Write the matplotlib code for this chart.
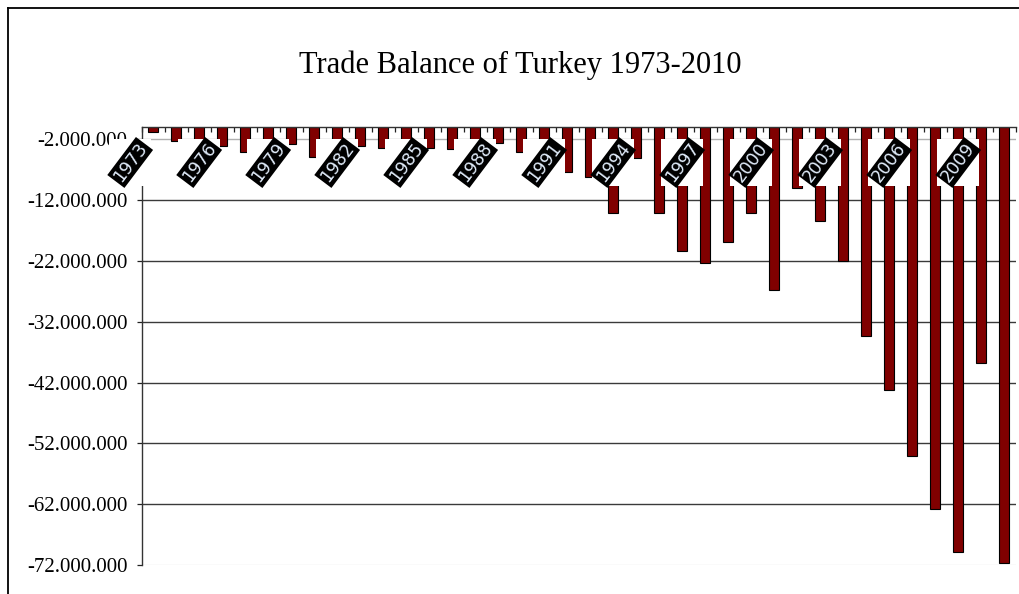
import matplotlib
matplotlib.use("Agg")
import matplotlib.pyplot as plt
from matplotlib.patches import Rectangle
from matplotlib.lines import Line2D
from matplotlib.ticker import FixedLocator, FuncFormatter, NullFormatter
import numpy as np

# Turkey foreign trade balance, thousand USD
years = list(range(1973, 2011))
balance = [
    -769133, -2245319, -3337483, -3168433, -4043252, -2310862, -2808237,
    -4999242, -4230440, -3096691, -3507168, -3623318, -3385365, -3648045,
    -3967770, -2673374, -4167451, -9342838, -7453552, -8156426, -14083303,
    -5164147, -14071970, -20402177, -22297649, -18947440, -14084047,
    -26727915, -10064867, -15494708, -22086856, -34372613, -43297743,
    -54041498, -62790965, -69936378, -38785808, -71661113,
]
label_years = years[::3]
y_ticks = list(range(-72_000_000, 0, 10_000_000))

title = "Trade Balance of Turkey 1973-2010"

fig = plt.figure(figsize=(10.2, 5.94), dpi=100)
fig.patch.set_facecolor("white")

# outer chart frame (top and left edges)
fig.add_artist(Line2D([8 / 1020, 1.0], [1 - 8 / 594, 1 - 8 / 594],
                      transform=fig.transFigure, color="black", lw=1.3))
fig.add_artist(Line2D([8 / 1020, 8 / 1020], [0.0, 1 - 8 / 594],
                      transform=fig.transFigure, color="black", lw=1.3))

fig.text(0.51, 1 - 73 / 594, title, ha="center", va="baseline",
         fontsize=22, family="Liberation Serif", color="black")

ax = fig.add_axes([0.1389, 0.0488, 0.8569, 0.7374])
x = np.arange(len(years))
ax.bar(x, balance, width=0.43, color="#800000", edgecolor="black",
       linewidth=0.8, zorder=2)

ax.set_xlim(-0.5, len(years) - 0.5)
ax.set_ylim(-72_000_000, 0)
ax.set_axisbelow(True)

# category axis sits on the zero line at the top
ax.xaxis.set_ticks_position("top")
ax.xaxis.set_major_locator(FixedLocator(np.arange(-0.5, len(years), 1.0)))
ax.xaxis.set_major_formatter(NullFormatter())
ax.tick_params(axis="x", direction="in", length=3.6, width=0.9,
               color="#222222", labeltop=False, labelbottom=False)

ax.yaxis.set_major_locator(FixedLocator(y_ticks))
ax.yaxis.set_major_formatter(
    FuncFormatter(lambda v, _: f"{int(v):,}".replace(",", ".")))
ax.tick_params(axis="y", direction="out", length=3.6, width=0.9,
               color="#222222", pad=6.5)
for lab in ax.get_yticklabels():
    lab.set_family("Liberation Serif")
    lab.set_fontsize(15)

ax.yaxis.grid(True, color="#3a3a3a", linewidth=1.0)
grid = ax.yaxis.get_gridlines()
grid[0].set_color("#e6e6e6")
grid[-1].set_color("#b0b0b0")

for side in ("bottom", "right"):
    ax.spines[side].set_visible(False)
for side in ("top", "left"):
    ax.spines[side].set_color("#333333")
    ax.spines[side].set_linewidth(1.0)

# rotated year labels on white panels just under the zero line
trans = ax.get_xaxis_transform()
for i, yr in enumerate(years):
    if yr not in label_years:
        continue
    pos = i - 1
    ax.add_patch(Rectangle((pos - 0.91, 0.8653), 1.82, 0.1073,
                           transform=trans, facecolor="white",
                           edgecolor="none", zorder=3, clip_on=False))
    ax.text(pos, 0.919, str(yr), transform=trans, rotation=53,
            ha="center", va="center", rotation_mode="anchor",
            fontsize=12.5, family="DejaVu Sans", color="#dfeaf8",
            bbox=dict(boxstyle="square,pad=0.1", fc="black", ec="none"),
            zorder=4)

fig.savefig("out.png", dpi=100, facecolor="white")
